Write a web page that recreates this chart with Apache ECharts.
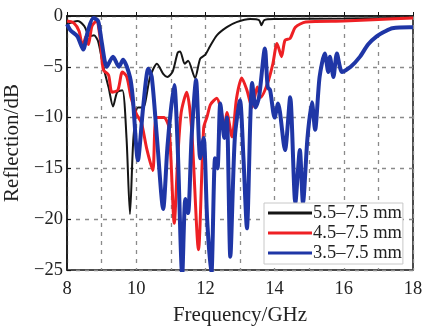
<!DOCTYPE html>
<html><head><meta charset="utf-8">
<script src="https://cdn.jsdelivr.net/npm/echarts@6/dist/echarts.min.js"></script>
<style>html,body{margin:0;padding:0;background:#fff}#c{width:426px;height:326px}</style>
</head><body><div id="c"></div>
<script>
const seriesNames = ['5.5–7.5 mm', '4.5–7.5 mm', '3.5–7.5 mm'];
const xTicks = [8, 10, 12, 14, 16, 18];
const yTicks = [0, -5, -10, -15, -20, -25];

const freqBlack = [8.0,8.3,8.5,8.65,8.78,8.9,9.05,9.2,9.33,9.45,9.6,9.72,9.82,9.92,10.05,10.2,10.4,10.6,10.78,10.9,11.05,11.2,11.27,11.4,11.5,11.7,11.85,12.0,12.13,12.33,12.62,12.9,13.3,13.55,13.62,13.7,14.0,16.0,18.0];
const dbBlack   = [-0.8,-0.5,-1.0,-2.0,-1.9,-2.5,-5.0,-7.0,-8.9,-7.5,-7.3,-12.0,-19.5,-12.0,-9.0,-9.0,-6.0,-4.7,-5.7,-6.0,-5.5,-3.6,-3.5,-4.7,-4.4,-6.1,-4.2,-3.8,-3.0,-1.9,-1.1,-0.6,-0.3,-0.4,-0.9,-0.4,-0.3,-0.25,-0.2];

const freqRed = [8.0,8.2,8.35,8.45,8.55,8.62,8.72,8.85,8.95,9.05,9.2,9.3,9.47,9.6,9.73,9.85,10.0,10.15,10.3,10.48,10.58,10.8,10.95,11.1,11.2,11.3,11.46,11.6,11.8,11.95,12.05,12.15,12.33,12.45,12.55,12.62,12.77,12.9,13.05,13.2,13.35,13.5,13.6,13.8,13.95,14.07,14.2,14.3,14.45,14.6,14.9,16.0,17.0,18.0];
const dbRed   = [-0.5,-0.7,-1.5,-3.0,-2.0,-2.8,-1.0,-0.5,-2.0,-5.3,-5.8,-7.5,-7.3,-5.5,-6.0,-8.0,-9.6,-10.5,-13.0,-15.2,-10.0,-10.0,-11.0,-20.4,-14.0,-9.5,-7.5,-11.0,-23.0,-11.0,-9.9,-8.7,-8.1,-9.3,-11.0,-9.5,-11.9,-8.1,-6.1,-7.3,-9.0,-7.0,-8.0,-6.6,-4.7,-2.7,-4.0,-2.4,-2.2,-1.1,-0.6,-0.5,-0.35,-0.2];

const freqBlue = [8.0,8.1,8.3,8.47,8.6,8.76,8.9,9.0,9.15,9.33,9.5,9.62,9.82,9.9,10.05,10.2,10.35,10.45,10.6,10.78,10.9,11.0,11.1,11.2,11.33,11.42,11.5,11.6,11.73,11.85,11.95,12.05,12.17,12.28,12.35,12.43,12.55,12.62,12.72,12.85,13.0,13.1,13.2,13.3,13.35,13.45,13.55,13.72,13.8,13.87,14.0,14.1,14.3,14.45,14.6,14.73,14.82,14.95,15.08,15.17,15.3,15.45,15.55,15.6,15.7,15.8,15.95,16.2,16.47,16.7,16.95,17.2,17.4,17.9,18.0];
const dbBlue   = [-0.8,-1.4,-2.0,-3.3,-1.5,-0.2,-0.5,-2.5,-5.0,-4.0,-5.0,-4.3,-6.0,-8.0,-14.2,-9.0,-5.2,-6.0,-12.0,-19.0,-13.0,-9.3,-6.8,-13.0,-25.5,-18.0,-19.4,-12.0,-6.3,-14.0,-12.0,-20.0,-25.5,-14.0,-15.0,-8.6,-12.0,-10.0,-23.7,-12.0,-8.3,-14.0,-20.9,-10.0,-6.6,-9.0,-8.0,-3.2,-7.0,-7.3,-10.0,-8.6,-13.2,-8.0,-18.4,-13.2,-18.4,-12.0,-8.5,-11.2,-6.0,-3.7,-5.5,-4.0,-6.0,-3.7,-5.5,-5.0,-4.0,-2.8,-2.0,-1.5,-1.2,-1.1,-1.1];

const zip = (xs, ys) => xs.map((x, i) => [x, ys[i]]);
const serif = '"Liberation Serif", "Times New Roman", serif';
const colors = ['#151515', '#ee2024', '#1f36a6'];
const widths = [2, 3, 4];

const chart = echarts.init(document.getElementById('c'), null, {renderer: 'canvas'});
const datasets = [zip(freqBlack, dbBlack), zip(freqRed, dbRed), zip(freqBlue, dbBlue)];
chart.setOption({
  animation: false,
  backgroundColor: '#fff',
  grid: {left: 67, right: 13, top: 16, bottom: 56, containLabel: false, outerBoundsMode: 'none',
    show: true, borderColor: '#111', borderWidth: 1.5, backgroundColor: 'transparent'},
  legend: {
    orient: 'vertical', left: 264, top: 203,
    data: seriesNames,
    icon: 'rect',
    itemWidth: 44, itemHeight: 3, itemGap: 0,
    padding: [0, 1, 1, 4],
    backgroundColor: '#fff', borderColor: '#c8c8c8', borderWidth: 1,
    textStyle: {fontFamily: serif, fontSize: 18.5, lineHeight: 20, color: '#222', padding: [0, 0, 0, -4]}
  },
  xAxis: {
    type: 'value', min: 8, max: 18, interval: 1,
    name: 'Frequency/GHz', nameLocation: 'middle', nameGap: 35,
    nameTextStyle: {fontFamily: serif, fontSize: 21, color: '#222'},
    axisLine: {show: true, lineStyle: {color: '#111', width: 1.5}},
    axisTick: {show: true, inside: true, length: 4, lineStyle: {color: '#111'}},
    axisLabel: {fontFamily: serif, fontSize: 18.5, color: '#222', margin: 10,
      formatter: v => xTicks.includes(v) ? String(v) : ''},
    splitLine: {show: true, lineStyle: {color: '#8a8a8a', type: [4, 5], width: 1.3}}
  },
  yAxis: {
    type: 'value', min: -25, max: 0, interval: 5,
    name: 'Reflection/dB', nameLocation: 'middle', nameGap: 41,
    nameTextStyle: {fontFamily: serif, fontSize: 21, color: '#222'},
    axisLine: {show: true, lineStyle: {color: '#111', width: 1.5}},
    axisTick: {show: true, inside: true, length: 4, lineStyle: {color: '#111'}},
    axisLabel: {fontFamily: serif, fontSize: 18.5, color: '#222', margin: 4, padding: [4, 0, 0, 0],
      formatter: v => yTicks.includes(v) ? String(v).replace('-', '\u2212') : ''},
    splitLine: {show: true, lineStyle: {color: '#8a8a8a', type: [4, 5], width: 1.3}}
  },
  series: seriesNames.map((n, i) => ({
    name: n, type: 'line', data: datasets[i], showSymbol: false, symbol: 'none',
    smooth: 0.25, clip: true,
    lineStyle: {color: colors[i], width: widths[i]},
    itemStyle: {color: colors[i]}
  }))
});
</script></body></html>
